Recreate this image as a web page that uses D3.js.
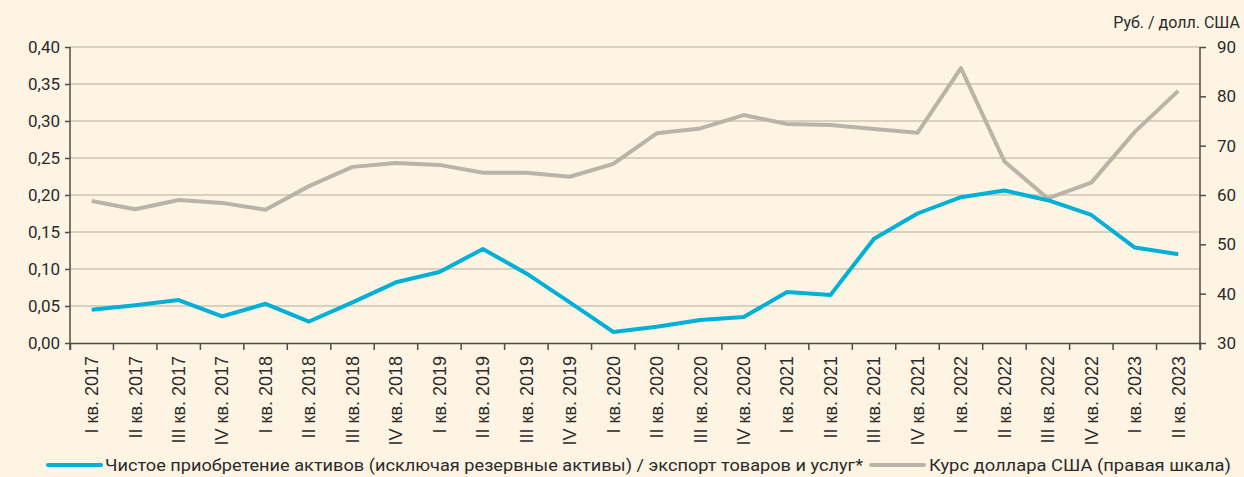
<!DOCTYPE html>
<html>
<head>
<meta charset="utf-8">
<script src="https://cdn.jsdelivr.net/npm/d3@7"></script>
<style>
  html, body { margin: 0; padding: 0; background: #fdf4e3; }
  svg { display: block; }
</style>
</head>
<body>
<div id="chart"></div>
<script>
// chart data
const quarters = ["I кв. 2017", "II кв. 2017", "III кв. 2017", "IV кв. 2017",
  "I кв. 2018", "II кв. 2018", "III кв. 2018", "IV кв. 2018",
  "I кв. 2019", "II кв. 2019", "III кв. 2019", "IV кв. 2019",
  "I кв. 2020", "II кв. 2020", "III кв. 2020", "IV кв. 2020",
  "I кв. 2021", "II кв. 2021", "III кв. 2021", "IV кв. 2021",
  "I кв. 2022", "II кв. 2022", "III кв. 2022", "IV кв. 2022",
  "I кв. 2023", "II кв. 2023"];
const assetsRatio = [0.045, 0.051, 0.058, 0.036, 0.053, 0.029, 0.055, 0.082,
  0.096, 0.127, 0.094, 0.055, 0.015, 0.022, 0.031, 0.035,
  0.069, 0.065, 0.141, 0.175, 0.197, 0.206, 0.193, 0.173, 0.129, 0.120];
const usdRate = [58.8, 57.1, 59.0, 58.4, 57.0, 61.8, 65.7, 66.5,
  66.1, 64.5, 64.5, 63.7, 66.3, 72.5, 73.5, 76.2,
  74.4, 74.2, 73.4, 72.6, 85.7, 66.8, 59.3, 62.5, 72.8, 81.1];
const leftTicks = [0, 0.05, 0.10, 0.15, 0.20, 0.25, 0.30, 0.35, 0.40];
const rightTicks = [30, 40, 50, 60, 70, 80, 90];
const legendLabels = ["Чистое приобретение активов (исключая резервные активы) / экспорт товаров и услуг*",
  "Курс доллара США (правая шкала)"];
const rightTitle = "Руб. / долл. США";

const W = 1244, H = 477;
const margin = { top: 47, right: 44, bottom: 134, left: 70 };
const plotW = W - margin.left - margin.right;
const plotH = H - margin.top - margin.bottom;

const blue = "#00b0d6", gray = "#bab3a8", axisCol = "#4d4d4d", gridCol = "#cdc4b5";

var svg = d3.select("#chart").append("svg").attr("width", W).attr("height", H)
  .style("background", "#fdf4e3");
var g = svg.append("g").attr("transform", "translate(" + margin.left + "," + margin.top + ")");

var x = d3.scaleBand().domain(quarters).range([0, plotW]);
var yL = d3.scaleLinear().domain([0, 0.4]).range([plotH, 0]);
var yR = d3.scaleLinear().domain([30, 90]).range([plotH, 0]);

// grid
g.selectAll("line.grid").data(leftTicks.slice(1)).enter().append("line")
  .attr("class", "grid")
  .attr("x1", 0).attr("x2", plotW)
  .attr("y1", d => yL(d)).attr("y2", d => yL(d))
  .attr("stroke", gridCol).attr("stroke-width", 1.5);

var fmt = d => d.toFixed(2).replace(".", ",");

// left axis
var axL = g.append("g").call(d3.axisLeft(yL).tickValues(leftTicks).tickFormat(fmt).tickSize(5).tickPadding(5));
// right axis
var axR = g.append("g").attr("transform", "translate(" + plotW + ",0)")
  .call(d3.axisRight(yR).tickValues(rightTicks).tickSize(6).tickPadding(11));
// bottom axis
var axB = g.append("g").attr("transform", "translate(0," + plotH + ")")
  .call(d3.axisBottom(x).tickSize(7).tickPadding(6));
// ticks at band edges
axB.selectAll(".tick line").attr("transform", "translate(" + (-x.bandwidth() / 2) + ",0)");
axB.append("line").attr("x1", plotW).attr("x2", plotW).attr("y1", 0).attr("y2", 7)
  .attr("stroke", axisCol).attr("stroke-width", 1.5);
axB.selectAll(".tick text")
  .attr("transform", "rotate(-90)")
  .attr("text-anchor", "end")
  .attr("x", -13).attr("y", 0).attr("dy", "0.35em")
  .attr("font-family", "'Liberation Sans', Arial, sans-serif")
  .attr("font-size", 18);

[axL, axR, axB].forEach(function (a) {
  a.select(".domain").attr("stroke", axisCol).attr("stroke-width", 1.5);
  a.selectAll(".tick line").attr("stroke", axisCol).attr("stroke-width", 1.5);
  a.selectAll(".tick text").attr("fill", "#2b2b2b");
});
[axL, axR].forEach(function (a) {
  a.selectAll(".tick text").attr("font-family", "Roboto, sans-serif").attr("font-size", 17);
});
axL.select(".domain").attr("d", "M0," + plotH + "V0");
axR.select(".domain").attr("d", "M0," + plotH + "V0");

// lines
var lineL = d3.line().x((d, i) => x(quarters[i]) + x.bandwidth() / 2).y(d => yL(d));
var lineR = d3.line().x((d, i) => x(quarters[i]) + x.bandwidth() / 2).y(d => yR(d));
g.append("path").datum(usdRate).attr("d", lineR)
  .attr("fill", "none").attr("stroke", gray).attr("stroke-width", 4).attr("stroke-linejoin", "round");
g.append("path").datum(assetsRatio).attr("d", lineL)
  .attr("fill", "none").attr("stroke", blue).attr("stroke-width", 4).attr("stroke-linejoin", "round");

// right axis title
svg.append("text").attr("x", 1240).attr("y", 28).attr("text-anchor", "end")
  .style("font-family", "Roboto, sans-serif").style("font-size", "16px").attr("fill", "#2b2b2b")
  .text(rightTitle);

// legend
var legend = [
  { label: legendLabels[0], color: blue, x1: 48, x2: 101, tx: 105, tw: 758 },
  { label: legendLabels[1], color: gray, x1: 871, x2: 924, tx: 929, tw: 302 }
];
var lg = svg.append("g");
lg.selectAll("line").data(legend).enter().append("line")
  .attr("x1", d => d.x1).attr("x2", d => d.x2).attr("y1", 465).attr("y2", 465)
  .attr("stroke", d => d.color).attr("stroke-width", 4).attr("stroke-linecap", "round");
lg.selectAll("text").data(legend).enter().append("text")
  .attr("x", d => d.tx).attr("y", 471)
  .attr("textLength", d => d.tw).attr("lengthAdjust", "spacingAndGlyphs")
  .style("font-family", "Roboto, sans-serif").style("font-size", "17px").attr("fill", "#2b2b2b")
  .text(d => d.label);
</script>
</body>
</html>
